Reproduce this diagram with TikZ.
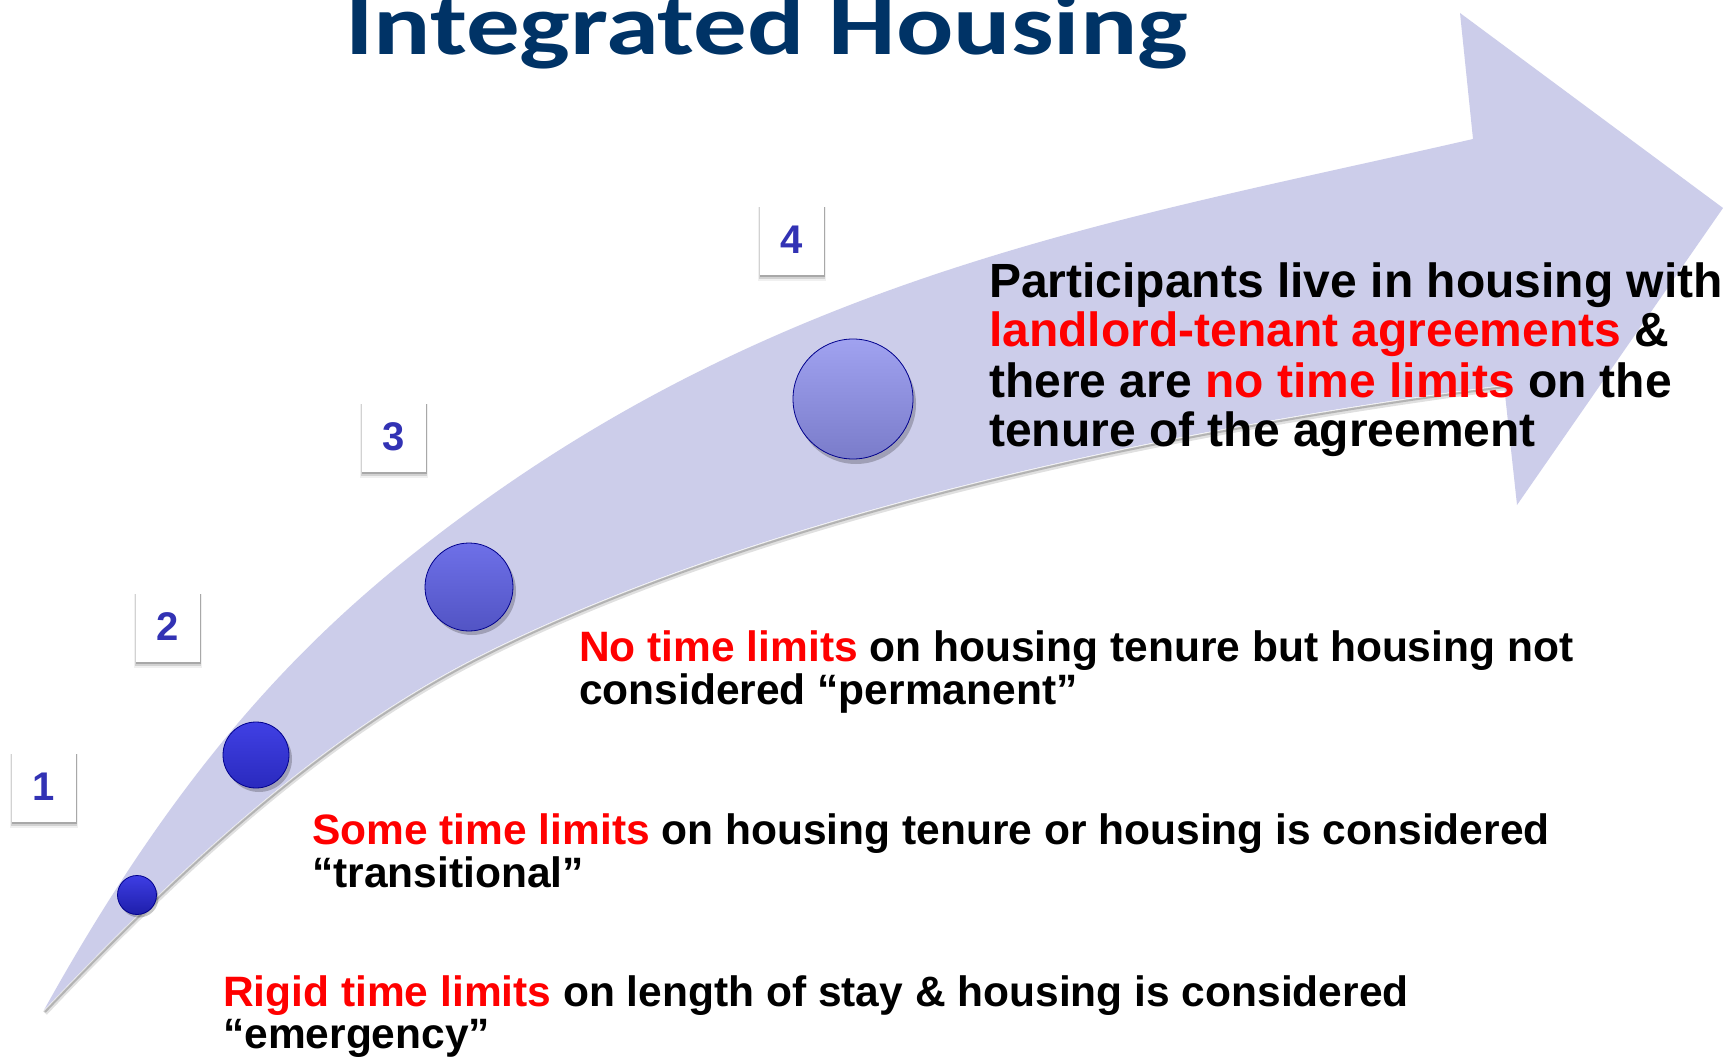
\documentclass[tikz,border=0pt]{standalone}
\usepackage{fontspec}
\setmainfont{Liberation Sans}
\newfontfamily\titlefont{Carlito}
\usetikzlibrary{shadows}
\definecolor{arrowfill}{RGB}{204,205,234}
\definecolor{titleblue}{RGB}{0,51,102}
\definecolor{numblue}{RGB}{50,50,180}
\definecolor{hired}{RGB}{255,0,0}
\begin{document}
\begin{tikzpicture}[x=1pt,y=-1pt,
  numbox/.style={draw=none, fill=white, minimum width=64pt, minimum height=70pt, inner sep=0pt,
    font=\bfseries\fontsize{40}{40}\selectfont, text=numblue,
    general shadow={shadow xshift=0pt, shadow yshift=-4pt, shadow scale=1.06, opacity=0.06, fill=black},
    general shadow={shadow xshift=0pt, shadow yshift=-3pt, shadow scale=1.03, opacity=0.12, fill=black},
    general shadow={shadow xshift=0.5pt, shadow yshift=-2pt, shadow scale=1.01, opacity=0.2, fill=black}},
  ball/.style={circle, inner sep=0pt, draw=#1!55!black, line width=0.8pt},
  ballshadow/.style={circle, inner sep=0pt, fill=black, opacity=0.22},
  bigtext/.style={anchor=base west, inner sep=0pt, font=\bfseries\fontsize{48}{50}\selectfont},
  midtext/.style={anchor=base west, inner sep=0pt, font=\bfseries\fontsize{42.5}{44}\selectfont},
  titletext/.style={anchor=base west, inner sep=0pt, text=titleblue, font=\titlefont\bfseries\fontsize{86}{90}\selectfont}
]
\useasboundingbox (0,0) rectangle (1723,1059);
\fill[white] (0,0) rectangle (1723,1059);

% soft shadow along the lower edge of the band
\draw[black, opacity=0.12, line width=5pt, shift={(1,3)}]
  (1504,385) .. controls (1164,429) and (763,514) .. (483,654)
  .. controls (333,729) and (194,852) .. (44,1010);
\draw[black, opacity=0.2, line width=2pt, shift={(1,2)}]
  (1504,385) .. controls (1164,429) and (763,514) .. (483,654)
  .. controls (333,729) and (194,852) .. (44,1010);

% curved arrow
\fill[arrowfill] (44,1010) .. controls (194,740) and (328,613) .. (478,505)
  .. controls (808,267) and (1143,215) .. (1473,139)
  -- (1460,13) -- (1723,208) -- (1517,505) -- (1504,385)
  .. controls (1164,429) and (763,514) .. (483,654)
  .. controls (333,729) and (194,852) .. (44,1010) -- cycle;

% title
\node[titletext] (title) at (345,55) {\scalebox{1.243}[1]{Integrated Housing}};

% balls
\node[ballshadow, minimum size=39pt] (s1) at (139,898) {};
\node[ball=blue, minimum size=39pt, top color={rgb,255:red,62;green,62;blue,228}, bottom color={rgb,255:red,30;green,30;blue,170}] (c1) at (137,895) {};
\node[ballshadow, minimum size=66pt] (s2) at (259,759) {};
\node[ball=blue, minimum size=66pt, top color={rgb,255:red,64;green,64;blue,228}, bottom color={rgb,255:red,42;green,42;blue,190}] (c2) at (256,755) {};
\node[ballshadow, minimum size=88pt] (s3) at (472,591) {};
\node[ball=blue, minimum size=88pt, top color={rgb,255:red,110;green,112;blue,232}, bottom color={rgb,255:red,82;green,84;blue,196}] (c3) at (469,587) {};
\node[ballshadow, minimum size=120pt] (s4) at (856,404) {};
\node[ball=blue, minimum size=120pt, top color={rgb,255:red,160;green,162;blue,240}, bottom color={rgb,255:red,122;green,124;blue,202}] (c4) at (853,399) {};

% number boxes
\node[numbox] (b1) at (44,787) {1};
\node[numbox] (b2) at (168,627) {2};
\node[numbox] (b3) at (394,437) {3};
\node[numbox] (b4) at (792,240) {4};

% texts
\node[bigtext] (t4a) at (989,297) {Participants live in housing with};
\node[bigtext] (t4b) at (989,346) {\textcolor{hired}{landlord-tenant agreements} \&};
\node[bigtext] (t4c) at (989,397) {there are \textcolor{hired}{no time limits} on the};
\node[bigtext] (t4d) at (989,446) {tenure of the agreement};

\node[midtext] (t3a) at (579,661) {\textcolor{hired}{No time limits} on housing tenure but housing not};
\node[midtext] (t3b) at (579,704) {considered “permanent”};

\node[midtext] (t2a) at (312,844) {\textcolor{hired}{Some time limits} on housing tenure or housing is considered};
\node[midtext] (t2b) at (312,887) {“transitional”};

\node[midtext] (t1a) at (223,1006) {\textcolor{hired}{Rigid time limits} on length of stay \& housing is considered};
\node[midtext] (t1b) at (223,1048) {“emergency”};
\end{tikzpicture}
\end{document}
